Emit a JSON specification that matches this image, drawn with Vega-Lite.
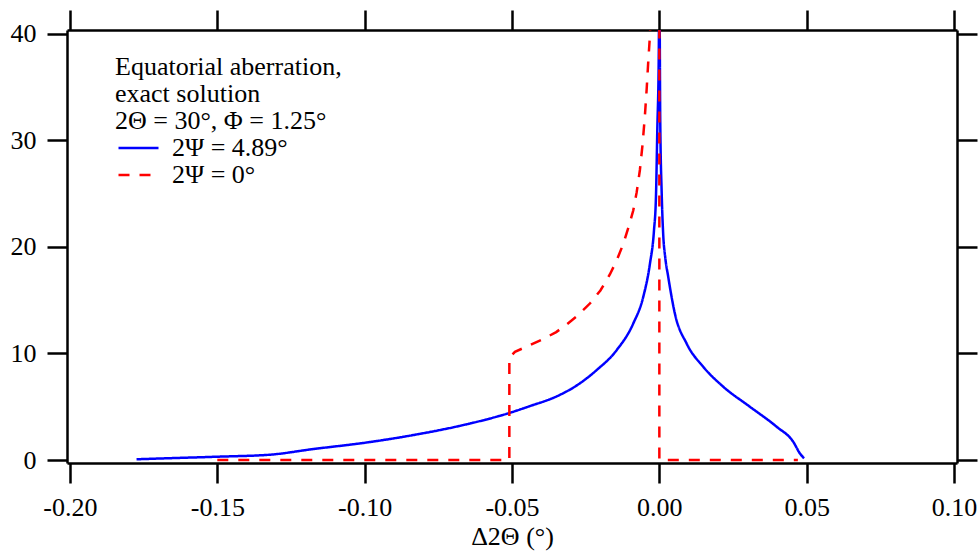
{
  "$schema": "https://vega.github.io/schema/vega-lite/v6.json",
  "width": 890,
  "height": 433,
  "autosize": {"type": "none"},
  "padding": {"left": 67, "top": 30, "right": 22, "bottom": 88},
  "background": "white",
  "config": {
    "font": "Liberation Serif",
    "view": {"stroke": null},
    "axis": {
      "grid": false,
      "domainColor": "black",
      "domainWidth": 2.5,
      "tickColor": "black",
      "tickWidth": 2.5,
      "tickSize": 20,
      "labelFont": "Liberation Serif",
      "labelFontSize": 26,
      "labelColor": "black",
      "titleFont": "Liberation Serif",
      "titleFontSize": 26,
      "titleFontWeight": "normal",
      "titleColor": "black"
    },
    "legend": {
      "titleFont": "Liberation Serif",
      "labelFont": "Liberation Serif"
    }
  },
  "data": {
    "values": [
      {"x": -0.1774, "y": 0.07, "series": "2Ψ = 4.89°"},
      {"x": -0.165, "y": 0.18, "series": "2Ψ = 4.89°"},
      {"x": -0.15, "y": 0.31, "series": "2Ψ = 4.89°"},
      {"x": -0.1321, "y": 0.5, "series": "2Ψ = 4.89°"},
      {"x": -0.1174, "y": 1.03, "series": "2Ψ = 4.89°"},
      {"x": -0.0999, "y": 1.62, "series": "2Ψ = 4.89°"},
      {"x": -0.0835, "y": 2.34, "series": "2Ψ = 4.89°"},
      {"x": -0.0665, "y": 3.28, "series": "2Ψ = 4.89°"},
      {"x": -0.0507, "y": 4.43, "series": "2Ψ = 4.89°"},
      {"x": -0.0439, "y": 5.06, "series": "2Ψ = 4.89°"},
      {"x": -0.035, "y": 5.95, "series": "2Ψ = 4.89°"},
      {"x": -0.028, "y": 7.0, "series": "2Ψ = 4.89°"},
      {"x": -0.0213, "y": 8.43, "series": "2Ψ = 4.89°"},
      {"x": -0.0145, "y": 10.3, "series": "2Ψ = 4.89°"},
      {"x": -0.00886, "y": 12.8, "series": "2Ψ = 4.89°"},
      {"x": -0.00546, "y": 15.3, "series": "2Ψ = 4.89°"},
      {"x": -0.0032, "y": 18.4, "series": "2Ψ = 4.89°"},
      {"x": -0.00183, "y": 21.5, "series": "2Ψ = 4.89°"},
      {"x": -0.00115, "y": 24.7, "series": "2Ψ = 4.89°"},
      {"x": -0.0007, "y": 30.9, "series": "2Ψ = 4.89°"},
      {"x": -0.0002, "y": 38.0, "series": "2Ψ = 4.89°"},
      {"x": 0.0, "y": 45.0, "series": "2Ψ = 4.89°"},
      {"x": 0.0003, "y": 32.0, "series": "2Ψ = 4.89°"},
      {"x": 0.0008, "y": 25.0, "series": "2Ψ = 4.89°"},
      {"x": 0.0013, "y": 21.2, "series": "2Ψ = 4.89°"},
      {"x": 0.002, "y": 19.0, "series": "2Ψ = 4.89°"},
      {"x": 0.003, "y": 17.2, "series": "2Ψ = 4.89°"},
      {"x": 0.0053, "y": 13.7, "series": "2Ψ = 4.89°"},
      {"x": 0.0093, "y": 10.9, "series": "2Ψ = 4.89°"},
      {"x": 0.0149, "y": 8.74, "series": "2Ψ = 4.89°"},
      {"x": 0.0217, "y": 6.87, "series": "2Ψ = 4.89°"},
      {"x": 0.0307, "y": 5.0, "series": "2Ψ = 4.89°"},
      {"x": 0.0398, "y": 3.12, "series": "2Ψ = 4.89°"},
      {"x": 0.0454, "y": 1.72, "series": "2Ψ = 4.89°"},
      {"x": 0.0477, "y": 0.62, "series": "2Ψ = 4.89°"},
      {"x": 0.0491, "y": 0.16, "series": "2Ψ = 4.89°"},
      {"x": -0.15, "y": 0, "series": "2Ψ = 0°"},
      {"x": -0.0509, "y": 0, "series": "2Ψ = 0°"},
      {"x": -0.0509, "y": 9.6, "series": "2Ψ = 0°"},
      {"x": -0.049, "y": 10.15, "series": "2Ψ = 0°"},
      {"x": -0.0445, "y": 10.7, "series": "2Ψ = 0°"},
      {"x": -0.0394, "y": 11.35, "series": "2Ψ = 0°"},
      {"x": -0.035, "y": 12.0, "series": "2Ψ = 0°"},
      {"x": -0.0315, "y": 12.7, "series": "2Ψ = 0°"},
      {"x": -0.0275, "y": 13.6, "series": "2Ψ = 0°"},
      {"x": -0.0235, "y": 14.7, "series": "2Ψ = 0°"},
      {"x": -0.02, "y": 15.9, "series": "2Ψ = 0°"},
      {"x": -0.0168, "y": 17.4, "series": "2Ψ = 0°"},
      {"x": -0.0145, "y": 18.7, "series": "2Ψ = 0°"},
      {"x": -0.0122, "y": 20.3, "series": "2Ψ = 0°"},
      {"x": -0.0105, "y": 21.8, "series": "2Ψ = 0°"},
      {"x": -0.00886, "y": 23.4, "series": "2Ψ = 0°"},
      {"x": -0.0077, "y": 25.1, "series": "2Ψ = 0°"},
      {"x": -0.0066, "y": 27.2, "series": "2Ψ = 0°"},
      {"x": -0.0057, "y": 29.6, "series": "2Ψ = 0°"},
      {"x": -0.0049, "y": 32.3, "series": "2Ψ = 0°"},
      {"x": -0.0043, "y": 34.8, "series": "2Ψ = 0°"},
      {"x": -0.0038, "y": 37.2, "series": "2Ψ = 0°"},
      {"x": -0.0032, "y": 39.8, "series": "2Ψ = 0°"},
      {"x": -0.0026, "y": 44.0, "series": "2Ψ = 0°"},
      {"x": 0.0, "y": 44.0, "series": "2Ψ = 0°"},
      {"x": 0.0, "y": 0, "series": "2Ψ = 0°"},
      {"x": 0.047, "y": 0, "series": "2Ψ = 0°"}
    ]
  },
  "resolve": {"axis": {"x": "independent", "y": "independent"}},
  "layer": [
    {
      "transform": [{"filter": "datum.series === '2Ψ = 4.89°'"}],
      "mark": {"type": "line", "clip": true, "strokeWidth": 2.5, "interpolate": "monotone"},
      "encoding": {
        "x": {
          "field": "x", "type": "quantitative",
          "scale": {"domain": [-0.201, 0.101], "nice": false, "zero": false},
          "axis": {
            "orient": "bottom",
            "values": [-0.2, -0.15, -0.1, -0.05, 0, 0.05, 0.1],
            "labelExpr": "replace(format(datum.value, '.2f'), '\u2212', '-')",
            "labelBaseline": "alphabetic",
            "labelPadding": 32,
            "title": "Δ2Θ (°)",
            "titleBaseline": "alphabetic",
            "titleY": 81
          }
        },
        "y": {
          "field": "y", "type": "quantitative",
          "scale": {"domain": [-0.28, 40.33], "nice": false, "zero": false},
          "axis": {
            "orient": "left",
            "values": [0, 10, 20, 30, 40],
            "labelPadding": 11,
            "title": null
          }
        },
        "color": {
          "field": "series", "type": "nominal",
          "scale": {"domain": ["2Ψ = 4.89°", "2Ψ = 0°"], "range": ["#0000ff", "#ff0000"]},
          "legend": {
            "orient": "none",
            "legendX": 48,
            "legendY": 24,
            "padding": 0,
            "title": ["Equatorial aberration,", "exact solution", "2Θ = 30°, Φ = 1.25°"],
            "titleFontSize": 26,
            "titleFontWeight": "normal",
            "titleColor": "black",
            "titleLineHeight": 27,
            "titleLimit": 500,
            "titlePadding": 1,
            "labelFontSize": 26,
            "labelColor": "black",
            "labelLimit": 500,
            "labelOffset": 12,
            "symbolType": "stroke",
            "symbolSize": 1600,
            "symbolStrokeWidth": 2.5,
            "symbolOffset": 2,
            "clipHeight": 26,
            "rowPadding": 1
          }
        },
        "strokeDash": {
          "field": "series", "type": "nominal",
          "scale": {"domain": ["2Ψ = 4.89°", "2Ψ = 0°"], "range": [[1, 0], [11, 10]]},
          "legend": {
            "orient": "none",
            "legendX": 48,
            "legendY": 24,
            "padding": 0,
            "title": ["Equatorial aberration,", "exact solution", "2Θ = 30°, Φ = 1.25°"],
            "titleFontSize": 26,
            "titleFontWeight": "normal",
            "titleColor": "black",
            "titleLineHeight": 27,
            "titleLimit": 500,
            "titlePadding": 1,
            "labelFontSize": 26,
            "labelColor": "black",
            "labelLimit": 500,
            "labelOffset": 12,
            "symbolType": "stroke",
            "symbolSize": 1600,
            "symbolStrokeWidth": 2.5,
            "symbolOffset": 2,
            "clipHeight": 26,
            "rowPadding": 1
          }
        }
      }
    },
    {
      "transform": [{"filter": "datum.series === '2Ψ = 0°'"}],
      "mark": {"type": "line", "clip": true, "strokeWidth": 2.5},
      "encoding": {
        "x": {
          "field": "x", "type": "quantitative",
          "axis": {
            "orient": "top",
            "values": [-0.2, -0.15, -0.1, -0.05, 0, 0.05, 0.1],
            "labels": false,
            "title": null
          }
        },
        "y": {
          "field": "y", "type": "quantitative",
          "axis": {
            "orient": "right",
            "values": [0, 10, 20, 30, 40],
            "labels": false,
            "title": null
          }
        },
        "color": {"field": "series", "type": "nominal"},
        "strokeDash": {"field": "series", "type": "nominal"}
      }
    }
  ]
}
